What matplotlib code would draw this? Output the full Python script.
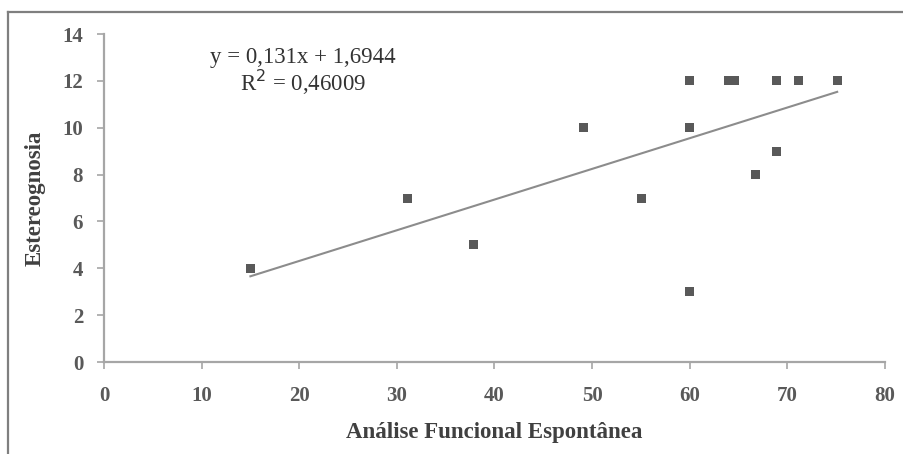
import matplotlib.pyplot as plt
import numpy as np

# Data
analise_funcional = [15.0, 31.1, 37.8, 49.1, 55.1, 60.0, 60.0, 60.0, 64.0, 64.6, 66.7, 68.9, 68.9, 71.1, 75.1]
estereognosia = [4, 7, 5, 10, 7, 12, 10, 3, 12, 12, 8, 12, 9, 12, 12]

# Linear trendline as reported on the chart
slope = 0.131
intercept = 1.6944
r_squared = 0.46009

x_ticks = [0, 10, 20, 30, 40, 50, 60, 70, 80]
y_ticks = [0, 2, 4, 6, 8, 10, 12, 14]

plt.rcParams['font.family'] = ['Liberation Serif', 'DejaVu Serif']

fig = plt.figure(figsize=(9.04, 4.54), dpi=100)
ax = fig.add_axes([0.115, 0.2026, 0.864, 0.7224])

# outer frame (left and top edges visible)
fig.add_artist(plt.Line2D([0.0085, 0.0085], [0.0, 0.974], color='#7f7f7f', lw=1.6,
                          transform=fig.transFigure))
fig.add_artist(plt.Line2D([0.0085, 1.0], [0.974, 0.974], color='#7f7f7f', lw=1.6,
                          transform=fig.transFigure))

ax.scatter(analise_funcional, estereognosia, marker='s', s=42, color='#595959',
           edgecolors='none', zorder=3)

xs = np.array([min(analise_funcional), max(analise_funcional)])
ax.plot(xs, slope * xs + intercept, color='#8c8c8c', lw=1.5, zorder=2)

eq = f"y = {slope:.3f}x + {intercept:.4f}".replace('.', ',')
r2 = f"R$^2$ = {r_squared:.5f}".replace('.', ',')
ax.text(20.4, 13.0, eq, ha='center', va='center', fontsize=16.5, color='#333333')
ax.text(20.4, 11.95, r2, ha='center', va='center', fontsize=16.5, color='#333333')

ax.set_xlim(0, 80)
ax.set_ylim(0, 14)
ax.set_xticks(x_ticks)
ax.set_yticks(y_ticks)
ax.tick_params(axis='both', direction='out', length=5, width=1.2, color='#a6a6a6',
               labelsize=15, labelcolor='#595959')
ax.tick_params(axis='x', pad=12)
ax.tick_params(axis='y', pad=10)
for lbl in ax.get_xticklabels() + ax.get_yticklabels():
    lbl.set_fontweight('bold')

for side in ['top', 'right']:
    ax.spines[side].set_visible(False)
for side in ['left', 'bottom']:
    ax.spines[side].set_color('#a6a6a6')
    ax.spines[side].set_linewidth(1.6)

ax.set_xlabel('Análise Funcional Espontânea', fontsize=16.5, fontweight='bold',
              color='#404040', labelpad=12)
ax.set_ylabel('Estereognosia', fontsize=16.5, fontweight='bold', color='#404040',
              labelpad=12)

fig.savefig('out.png', dpi=100)
